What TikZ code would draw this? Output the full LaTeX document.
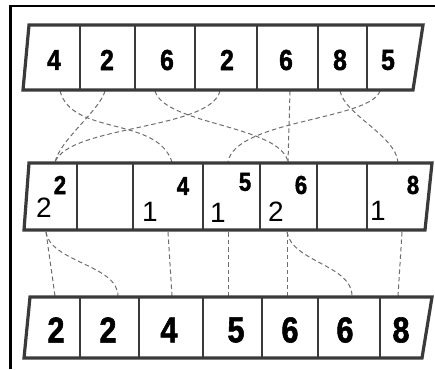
\documentclass[tikz,border=0pt]{standalone}
\usepackage{fontspec}
\setmainfont{Liberation Sans}
\newfontfamily\valfont{Liberation Sans}[UprightFont=* Bold, FakeStretch=0.85, FakeBold=1.6]
\definecolor{framegray}{RGB}{58, 58, 58}
\definecolor{linkgray}{RGB}{110, 110, 110}

\begin{document}
\begin{tikzpicture}[x=1pt, y=-1pt,
  arraybox/.style={draw=framegray, line width=3.2pt, line join=miter},
  celldiv/.style={draw=framegray, line width=1.8pt},
  link/.style={draw=linkgray, line width=1pt, dash pattern=on 4.5pt off 3pt},
  topval/.style={inner sep=0pt, font=\valfont\fontsize{29}{29}\selectfont},
  botval/.style={inner sep=0pt, font=\valfont\fontsize{36}{36}\selectfont},
  midval/.style={inner sep=0pt, font=\valfont\fontsize{26}{26}\selectfont},
  cntval/.style={inner sep=0pt, font=\fontsize{28}{28}\selectfont}]
  \useasboundingbox (0,0) rectangle (435,369);

  % outer frame
  \draw[line width=2.2pt] (10.5,369) -- (10.5,6) -- (435,6);

  % connector ends
  \coordinate (t1) at (60,91);  \coordinate (t2) at (105,91);
  \coordinate (t3) at (155,91); \coordinate (t4) at (220,91);
  \coordinate (t5) at (290,91); \coordinate (t6) at (340,91);
  \coordinate (t7) at (380,91);
  \coordinate (m1) at (55,162);  \coordinate (m3) at (172,162);
  \coordinate (m4) at (228,162); \coordinate (m5) at (288,162);
  \coordinate (m7) at (398,162);
  \coordinate (mo1) at (46,232);  \coordinate (mo3) at (168,232);
  \coordinate (mo4) at (228,232); \coordinate (mo5) at (287,232);
  \coordinate (mo7) at (402,232);
  \coordinate (b1) at (55,296);  \coordinate (b2) at (118,296);
  \coordinate (b3) at (172,296); \coordinate (b4) at (228,296);
  \coordinate (b5) at (287,296); \coordinate (b6) at (352,296);
  \coordinate (b7) at (398,296);

  % counting links
  \draw[link] (t1) .. controls (72,136) and (157,116) .. (m3);
  \draw[link] (t2) .. controls (100,110) and (60,140) .. (m1);
  \draw[link] (t3) .. controls (165,125) and (280,125) .. (m5);
  \draw[link] (t4) .. controls (210,130) and (70,125) .. (m1);
  \draw[link] (t5) -- (m5);
  \draw[link] (t6) .. controls (345,115) and (395,135) .. (m7);
  \draw[link] (t7) .. controls (370,120) and (235,120) .. (m4);

  % output links
  \draw[link] (mo1) -- (b1);
  \draw[link] (mo1) .. controls (50,262) and (118,265) .. (b2);
  \draw[link] (mo3) -- (b3);
  \draw[link] (mo4) -- (b4);
  \draw[link] (mo5) -- (b5);
  \draw[link] (mo5) .. controls (292,262) and (352,265) .. (b6);
  \draw[link] (mo7) -- (b7);

  % input array
  \draw[celldiv] (80,25) -- (80,90) (135,25) -- (135,90) (195,25) -- (195,90)
    (257,25) -- (257,90) (318,25) -- (318,90) (367,25) -- (367,90);
  \draw[arraybox] (29,25) -- (423,25) -- (413,90) -- (23,90) -- cycle;
  \node[topval] (in1) at (54,60) {4};
  \node[topval] (in2) at (107,60) {2};
  \node[topval] (in3) at (167,60) {6};
  \node[topval] (in4) at (227,60) {2};
  \node[topval] (in5) at (286,60) {6};
  \node[topval] (in6) at (340,60) {8};
  \node[topval] (in7) at (388,60) {5};

  % count array
  \draw[celldiv] (77,163) -- (77,230) (133,163) -- (133,230) (203,163) -- (203,230)
    (260,163) -- (260,230) (317,163) -- (317,230) (367,163) -- (367,230);
  \draw[arraybox] (29,163) -- (432,163) -- (425,230) -- (24,230) -- cycle;
  \node[midval] (key1) at (60,185) {2};
  \node[cntval] (cnt1) at (44,208) {2};
  \node[midval] (key3) at (183,186) {4};
  \node[cntval] (cnt3) at (150,212) {1};
  \node[midval] (key4) at (245,182) {5};
  \node[cntval] (cnt4) at (218,213) {1};
  \node[midval] (key5) at (301,185) {6};
  \node[cntval] (cnt5) at (276,212) {2};
  \node[midval] (key7) at (413,185) {8};
  \node[cntval] (cnt7) at (378,211) {1};

  % sorted array
  \draw[celldiv] (80,297) -- (80,358) (139,297) -- (139,358) (203,297) -- (203,358)
    (262,297) -- (262,358) (318,297) -- (318,358) (380,297) -- (380,358);
  \draw[arraybox] (30,297) -- (432,297) -- (422,358) -- (24,358) -- cycle;
  \node[botval] (out1) at (56,330) {2};
  \node[botval] (out2) at (108,330) {2};
  \node[botval] (out3) at (169,330) {4};
  \node[botval] (out4) at (236,330) {5};
  \node[botval] (out5) at (290,330) {6};
  \node[botval] (out6) at (345,330) {6};
  \node[botval] (out7) at (401,330) {8};
\end{tikzpicture}
\end{document}
